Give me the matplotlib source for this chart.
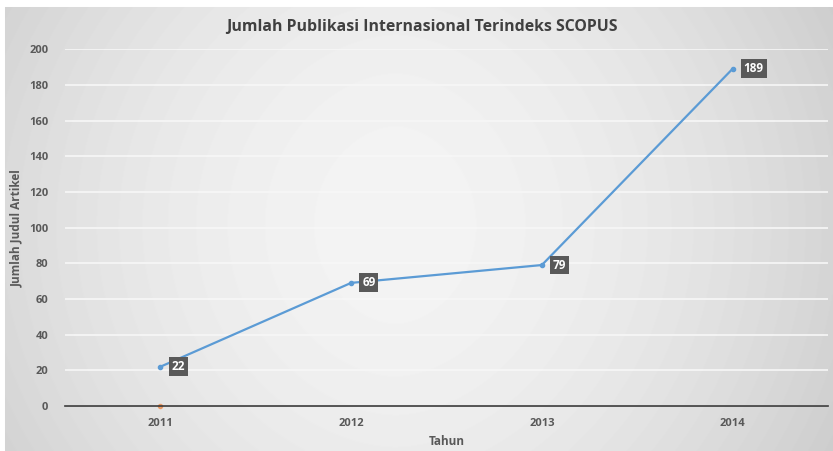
import numpy as np
import matplotlib.pyplot as plt

years = ["2011", "2012", "2013", "2014"]
articles = [22, 69, 79, 189]
other_series = [0, None, None, None]  # faint orange point at 2011 baseline
y_ticks = [0, 20, 40, 60, 80, 100, 120, 140, 160, 180, 200]

TEXT = "#595959"
LINE = "#5b9bd5"

plt.rcParams["font.family"] = ["Open Sans", "DejaVu Sans"]

fig = plt.figure(figsize=(8.33, 4.51), dpi=100)

# soft gray gradient background like the screenshot
bg = fig.add_axes([0, 0, 1, 1], zorder=-10)
xx = np.linspace(-1, 1, 833)
yy = np.linspace(-1, 1, 451)
X, Y = np.meshgrid(xx, yy)
shade = 0.955 - 0.11 * np.abs(X + 0.05) ** 1.8 - 0.03 * np.abs(Y) ** 2
shade[:7, :] = 1.0
shade[:, :5] = 1.0
bg.imshow(shade, cmap="gray", vmin=0, vmax=1, aspect="auto",
          extent=[0, 1, 0, 1], origin="upper")
bg.set_axis_off()

ax = fig.add_axes([0.078, 0.0998, 0.916, 0.7912])
ax.patch.set_alpha(0)

x = np.arange(len(years))
ax.plot(x, articles, color=LINE, lw=1.6, marker="o", ms=3, zorder=3)
ax.plot([0], [other_series[0]], color="#ed7d31", marker="o", ms=3,
        alpha=0.6, zorder=2, clip_on=False)

for xi, v in zip(x, articles):
    ax.annotate(str(v), (xi, v), xytext=(8, 0), textcoords="offset points",
                ha="left", va="center", color="white", fontsize=8.5,
                fontweight="bold",
                bbox=dict(boxstyle="square,pad=0.25", fc="#595959",
                          ec="none"), zorder=4)

ax.set_xlim(-0.5, len(years) - 0.5)
ax.set_ylim(0, 200)
ax.set_xticks(x)
ax.set_xticklabels(years)
ax.set_yticks(y_ticks)
ax.tick_params(length=0, colors=TEXT, labelsize=8)
for lab in ax.get_xticklabels() + ax.get_yticklabels():
    lab.set_fontweight("bold")
ax.tick_params(axis="x", pad=9)
ax.tick_params(axis="y", pad=12)

ax.grid(axis="y", color="#f7f7f7", lw=1.2)
ax.set_axisbelow(True)
for side in ["top", "right", "left"]:
    ax.spines[side].set_visible(False)
ax.spines["bottom"].set_color("#3a3a3a")
ax.spines["bottom"].set_linewidth(1.2)

fig.text(0.507, 0.94, "Jumlah Publikasi Internasional Terindeks SCOPUS",
         ha="center", va="center", fontsize=11.4, fontweight="bold",
         color="#404040")
ax.set_xlabel("Tahun", fontsize=8.5, fontweight="bold", color=TEXT,
              labelpad=4)
ax.set_ylabel("Jumlah Judul Artikel", fontsize=8.5, fontweight="bold",
              color=TEXT, labelpad=4)

fig.savefig("out.png", dpi=100)
